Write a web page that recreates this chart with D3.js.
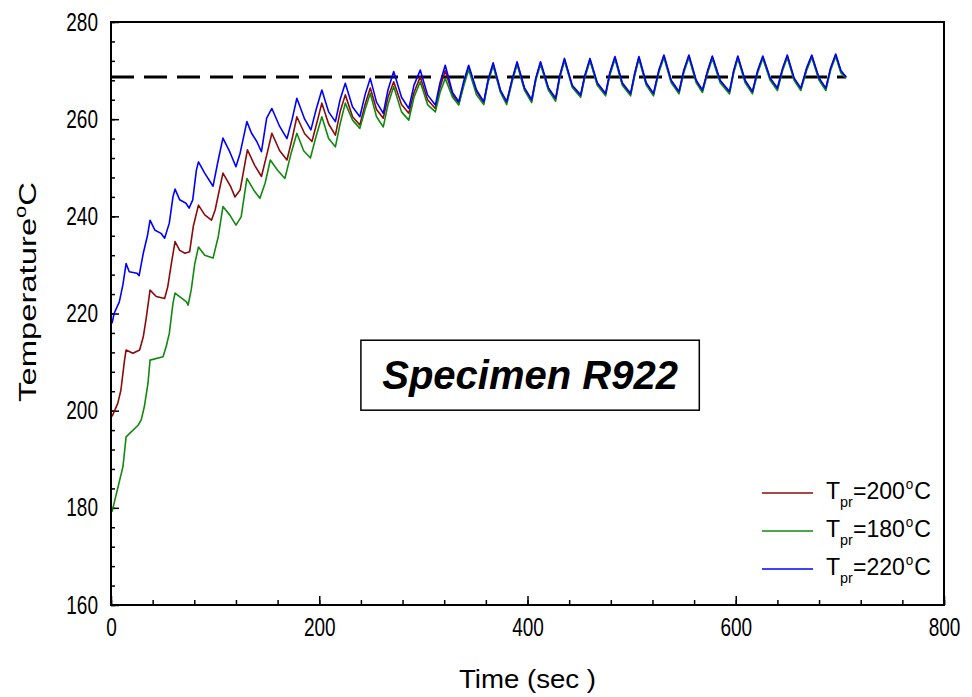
<!DOCTYPE html>
<html>
<head>
<meta charset="utf-8">
<script src="https://cdn.jsdelivr.net/npm/d3@7"></script>
<style>
  body { margin: 0; background: #fff; }
  text { font-family: "Liberation Sans", Arial, sans-serif; }
</style>
</head>
<body>
<svg id="chart" width="972" height="697"></svg>
<script>
// x ticks, y ticks
var xMajor = [0, 200, 400, 600, 800];
var yMajor = [160, 180, 200, 220, 240, 260, 280];

// reference temperature (dashed)
var refLine = [[0, 268.7], [706, 268.7]];

// Tpr = 200 C
var red200 = [[1,198.8],[6.5,201.5],[9.5,204.2],[13,210.4],[14.5,212.5],[21,211.8],[27.5,212.5],[31,215.2],[34,219.3],[37.5,224.8],[43.5,223.5],[51.5,223.1],[54.5,225.5],[58,230.3],[61.5,234.8],[66,233],[71,232.4],[75.5,232.7],[79,237.9],[84,242.3],[90,240.3],[96.5,239.2],[100,241.3],[107.5,248.9],[115,246.1],[119,244],[124,245.4],[131,253.7],[138,250.5],[144.5,248.2],[150,253],[154.5,257.1],[162,253.5],[169,251.6],[174,256],[178.5,260.5],[186,257],[193,255.4],[198,259.5],[202.5,263.3],[209,259],[215.5,256.7],[220,261.5],[225,265],[232,260.5],[239,258.8],[244,263],[249,266.4],[255,262],[261.5,260.2],[266,264.5],[271.5,267.7],[279,263],[286,261.2],[291,265.5],[297,268.7],[304,264],[311.5,262.2],[316,266.5],[321,270],[328,265],[334,263.2],[339,267.5],[343.5,270.8],[351,265.7],[358,263.3],[362,267.7],[367,271.3],[374,265.8],[380,263.4],[385,267.8],[390,271.5],[397,266.3],[404,263.8],[408,268.3],[412.5,271.6],[420,266.3],[427,264.1],[431,268.8],[435.5,272.3],[443,266.8],[451,264.8],[455,268.8],[460,272.3],[467,267.3],[475,265.1],[479,269.3],[484,272.7],[491,267.3],[499,265.1],[503,269.3],[507,272.7],[514,267.3],[521,265.1],[526,269.8],[531,273],[538,267.8],[545.5,265.5],[550,269.8],[555,273],[562,267.8],[568,265.8],[573,269.8],[577.5,272.8],[585,267.8],[594,265.5],[598,269.8],[602,272.8],[609,267.8],[616,265.5],[621,269.8],[626,272.8],[633,268.3],[640,266.2],[645,270.3],[649.5,273],[656,268.3],[662.5,266.2],[668,270.3],[673,273],[680,268.3],[686.5,266.2],[691,270.3],[696,273.2],[701,269.8],[706,268.6]];

// Tpr = 180 C
var green180 = [[1,179.2],[4.5,182.3],[8,185.4],[11.5,188.5],[14.5,194.6],[26,197],[29,198.1],[32,200.8],[35.5,205.6],[37.5,210.4],[50,211.1],[53,213.2],[56,215.9],[59.5,222.1],[61.5,224.2],[72.5,222.4],[74,221.7],[77,224.8],[80.5,230.3],[84,233.7],[90,232],[98,231.4],[103,235.8],[107.5,242],[114,240.3],[120,238.2],[125,239.9],[130.5,247.8],[138,245.1],[143,243.7],[148,246.8],[153,251.6],[160,249.5],[167,247.8],[173,253],[178.5,257.1],[185,253.5],[191.5,252],[197,256.5],[202.5,260.5],[209,256],[215.5,254.3],[220,259],[225,263.3],[232,259.8],[239,258.1],[244,262],[249,265.3],[255,260.5],[261.5,258.4],[266,263],[271.5,266.7],[279,261.5],[286,259.8],[291,264.5],[297,267.7],[304,263],[311.5,261.5],[316,265.5],[321,268.4],[328,264.5],[334,262.9],[339,267],[343.5,270.2],[351,265],[358,263],[362,267.5],[367,271],[374,265.5],[380,263],[385,267.5],[390,271.3],[397,266],[404,263.4],[408,268],[412.5,271.3],[420,266],[427,263.7],[431,268.5],[435.5,272],[443,266.5],[451,264.5],[455,268.5],[460,272],[467,267],[475,264.8],[479,269],[484,272.4],[491,267],[499,264.8],[503,269],[507,272.4],[514,267],[521,264.8],[526,269.5],[531,272.7],[538,267.5],[545.5,265.2],[550,269.5],[555,272.7],[562,267.5],[568,265.5],[573,269.5],[577.5,272.5],[585,267.5],[594,265.2],[598,269.5],[602,272.5],[609,267.5],[616,265.2],[621,269.5],[626,272.5],[633,268],[640,265.9],[645,270],[649.5,272.7],[656,268],[662.5,265.9],[668,270],[673,272.7],[680,268],[686.5,265.9],[691,270],[696,272.9],[701,269.5],[706,268.5]];

// Tpr = 220 C
var blue220 = [[1,218],[3,220],[8,222.4],[11.5,226],[14.5,230.3],[17.5,228.6],[25,228.3],[27,227.8],[31,232.4],[35,236],[37.5,239.2],[42,237.2],[48,236.5],[51.5,235.5],[56,238.6],[59.5,244],[61.5,245.6],[66,243.4],[72,242.7],[75,241.7],[78.5,243.4],[82,249.5],[84,251.2],[90,248.9],[98,246.2],[103,251.6],[107.5,256.1],[114,253.3],[120,250.2],[124,253],[130.5,259.5],[135,257.1],[140,255.4],[144.5,253.3],[149.5,260.2],[154.5,262.2],[162,258.5],[169,256],[174,260],[178.5,264.3],[186,260],[192,257.8],[197,262],[202.5,266],[209,261.5],[215.5,259.5],[220,264],[225,267.4],[232,262.5],[239,260.5],[244,265],[249,268.4],[255,263.5],[261.5,261.2],[266,266],[271.5,269.8],[279,264.5],[286,262.2],[291,267],[297,270.1],[304,265],[311.5,262.9],[316,267.5],[321,271.1],[328,265.5],[334,263.6],[339,268],[343.5,271.1],[351,266],[358,263.6],[362,268],[367,271.6],[374,266],[380,263.6],[385,268],[390,271.8],[397,266.5],[404,264],[408,268.5],[412.5,271.8],[420,266.5],[427,264.3],[431,269],[435.5,272.5],[443,267],[451,265],[455,269],[460,272.5],[467,267.5],[475,265.3],[479,269.5],[484,272.9],[491,267.5],[499,265.3],[503,269.5],[507,272.9],[514,267.5],[521,265.3],[526,270],[531,273.2],[538,268],[545.5,265.7],[550,270],[555,273.2],[562,268],[568,266],[573,270],[577.5,273],[585,268],[594,265.7],[598,270],[602,273],[609,268],[616,265.7],[621,270],[626,273],[633,268.5],[640,266.4],[645,270.5],[649.5,273.2],[656,268.5],[662.5,266.4],[668,270.5],[673,273.2],[680,268.5],[686.5,266.4],[691,270.5],[696,273.4],[701,270],[706,268.7]];

var seriesNames = ["200", "180", "220"];
var seriesColors = ["#8b0a0a", "#0f8a0f", "#0000ff"];
var seriesData = [red200, green180, blue220];

var svg = d3.select("#chart");
var margin = { left: 111, top: 22, right: 28, bottom: 92 };
var W = 972 - margin.left - margin.right;
var H = 697 - margin.top - margin.bottom;

var x = d3.scaleLinear().domain([0, 800]).range([0, W]);
var y = d3.scaleLinear().domain([160, 280]).range([H, 0]);

// squeeze text horizontally, the original uses a narrow face
function squeeze(sel, k) {
  sel.each(function() {
    var len = this.getComputedTextLength();
    d3.select(this).attr("textLength", len * k).attr("lengthAdjust", "spacingAndGlyphs");
  });
}

var g = svg.append("g").attr("transform", "translate(" + margin.left + "," + margin.top + ")");

// minor ticks
g.append("g")
  .attr("transform", "translate(0," + H + ")")
  .call(d3.axisBottom(x).tickValues(d3.range(0, 801, 40)).tickSize(-5).tickFormat(""))
  .call(function(a) { a.select(".domain").remove(); });
g.append("g")
  .call(d3.axisLeft(y).tickValues(d3.range(160, 281, 4)).tickSize(-4).tickFormat(""))
  .call(function(a) { a.select(".domain").remove(); });

// major ticks with labels
var xAxis = g.append("g")
  .attr("transform", "translate(0," + H + ")")
  .call(d3.axisBottom(x).tickValues(xMajor).tickSize(-9).tickPadding(13));
var yAxis = g.append("g")
  .call(d3.axisLeft(y).tickValues(yMajor).tickSize(-8).tickPadding(13));
[xAxis, yAxis].forEach(function(a) {
  a.select(".domain").remove();
  a.selectAll("text").style("font-size", "25px").attr("fill", "#000");
  squeeze(a.selectAll("text"), 0.76);
});
g.selectAll(".tick line").attr("stroke", "#000").attr("stroke-width", 1.5);

// dashed reference
var line = d3.line().x(function(d) { return x(d[0]); }).y(function(d) { return y(d[1]); });
g.append("path")
  .datum(refLine)
  .attr("d", line)
  .attr("fill", "none")
  .attr("stroke", "#000")
  .attr("stroke-width", 3)
  .attr("stroke-dasharray", "23,10");

// series
seriesData.forEach(function(d, i) {
  g.append("path")
    .datum(d)
    .attr("d", line)
    .attr("fill", "none")
    .attr("stroke", seriesColors[i])
    .attr("stroke-width", 1.6)
    .attr("stroke-linejoin", "round");
});

// frame
g.append("rect")
  .attr("width", W).attr("height", H)
  .attr("fill", "none").attr("stroke", "#000").attr("stroke-width", 2);

// axis titles
svg.append("text")
  .attr("x", margin.left + W / 2).attr("y", 688)
  .attr("text-anchor", "middle")
  .attr("textLength", 137).attr("lengthAdjust", "spacingAndGlyphs")
  .style("font-size", "25px")
  .text("Time (sec )");

var yt = svg.append("text")
  .attr("transform", "translate(36,292) rotate(-90)")
  .attr("text-anchor", "middle")
  .attr("textLength", 220).attr("lengthAdjust", "spacingAndGlyphs")
  .style("font-size", "24px");
yt.append("tspan").text("Temperature");
yt.append("tspan").attr("dy", -10).style("font-size", "16px").text("o");
yt.append("tspan").attr("dy", 10).text("C");

// specimen label box
var bx = x(240), bw = x(325) - x(0), by = y(214.5), bh = y(200.1) - y(214.5);
g.append("rect")
  .attr("x", bx).attr("y", by).attr("width", bw).attr("height", bh)
  .attr("fill", "#fff").attr("stroke", "#000").attr("stroke-width", 1.5);
g.append("text")
  .attr("x", bx + bw / 2).attr("y", by + bh / 2 + 14)
  .attr("text-anchor", "middle")
  .style("font-weight", "bold").style("font-style", "italic")
  .style("font-size", "40px")
  .text("Specimen R922");

// legend
var legend = svg.append("g").attr("class", "legend");
[0, 1, 2].forEach(function(i) {
  var ly = 493 + i * 38;
  var lg = legend.append("g").attr("transform", "translate(762," + ly + ")");
  lg.append("line").attr("x1", 0).attr("x2", 51).attr("y1", 0).attr("y2", 0)
    .attr("stroke", seriesColors[i]).attr("stroke-width", 1.5);
  var t = lg.append("text").attr("x", 64).attr("y", 6).style("font-size", "24px")
    .attr("textLength", 105).attr("lengthAdjust", "spacingAndGlyphs");
  t.append("tspan").text("T");
  t.append("tspan").attr("dy", 8).style("font-size", "15px").text("pr");
  t.append("tspan").attr("dy", -8).text("=" + seriesNames[i]);
  t.append("tspan").attr("dy", -10).attr("dx", 1).style("font-size", "14px").text("o");
  t.append("tspan").attr("dy", 10).attr("dx", 1).text("C");
});
</script>
</body>
</html>
